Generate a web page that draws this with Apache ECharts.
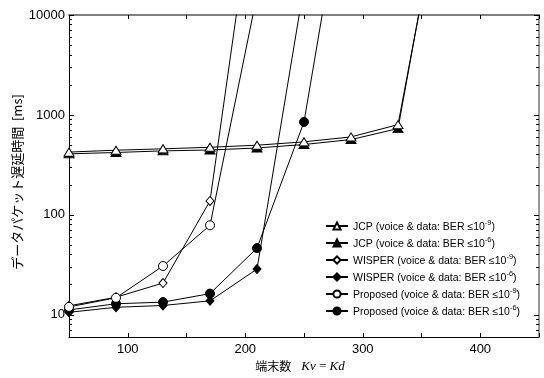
<!DOCTYPE html>
<html>
<head>
<meta charset="utf-8">
<script src="https://cdn.jsdelivr.net/npm/echarts@6/dist/echarts.min.js"></script>
<style>html,body{margin:0;padding:0;background:#fff}#c{width:544px;height:378px}</style>
</head>
<body>
<div id="c"></div>
<script>
// ---- data ----
const xJCP = [50, 90, 130, 170, 210, 250, 290, 330, 370];
const jcp9 = [425, 444, 458, 475, 498, 538, 603, 800, 250000];
const jcp6 = [408, 421, 437, 446, 467, 506, 567, 730, 280000];
const xWisper9 = [50, 90, 130, 170, 210];
const wisper9 = [12.3, 15.0, 20.8, 138, 290000];
const xWisper6 = [50, 90, 130, 170, 210, 250];
const wisper6 = [10.6, 11.9, 12.4, 13.8, 28.7, 19500];
const xProp9 = [50, 90, 130, 170, 210];
const prop9 = [12.0, 14.8, 30.8, 78.7, 15800];
const xProp6 = [50, 90, 130, 170, 210, 250, 290];
const prop6 = [11.2, 12.9, 13.4, 16.3, 46.5, 851, 500000];

const seriesNames = [
  'JCP (voice & data: BER ≤10^-9)',
  'JCP (voice & data: BER ≤10^-6)',
  'WISPER (voice & data: BER ≤10^-9)',
  'WISPER (voice & data: BER ≤10^-6)',
  'Proposed (voice & data: BER ≤10^-9)',
  'Proposed (voice & data: BER ≤10^-6)'
];
const xTickLabels = [100, 200, 300, 400];
const yTickLabels = [10, 100, 1000, 10000];
const yMinorTicks = [7, 8, 9, 20, 30, 40, 50, 60, 70, 80, 90, 200, 300, 400, 500, 600, 700, 800, 900,
  2000, 3000, 4000, 5000, 6000, 7000, 8000, 9000];
const xAxisName = '端末数';
const xAxisVar = 'Kv\u2009=\u2009Kd';
const yAxisName = 'データパケット遅延時間  [ms]';

const pairs = (xs, ys) => xs.map((x, i) => [x, ys[i]]);
const tri = 'path://M0,10 L5,0 L10,10 Z';

function mk(name, xs, ys, symbol, fill, size) {
  return {
    name, type: 'line', data: pairs(xs, ys), symbol, symbolSize: size,
    xAxisIndex: 0, yAxisIndex: 0,
    itemStyle: { color: fill, borderColor: '#000', borderWidth: 1 },
    lineStyle: { color: '#000', width: 1 },
    clip: true, z: fill === '#fff' ? 3 : 2
  };
}

const chart = echarts.init(document.getElementById('c'), null, { renderer: 'canvas' });
const FONT = 'Liberation Sans, Arial, sans-serif';
const G = { left: 69, right: 5, top: 15, bottom: 41, outerBoundsMode: 'none', containLabel: false };

const minorY = (pos) => ({
  type: 'log', min: 6, max: 10000, position: pos, gridIndex: 1,
  axisLine: { show: false },
  axisTick: { show: true, inside: true, length: 3, customValues: yMinorTicks, lineStyle: { color: '#000', width: 1 } },
  axisLabel: { show: false }, splitLine: { show: false }
});

chart.setOption({
  backgroundColor: '#fff',
  animation: false,
  grid: [Object.assign({}, G), Object.assign({}, G)],
  legend: {
    orient: 'vertical', left: 320, top: 214,
    itemWidth: 22, itemHeight: 9, itemGap: 3,
    data: seriesNames,
    formatter: n => {
      const m = n.match(/^(.*≤10)\^(-\d)\)$/);
      return '{t|' + m[1] + '}{s|' + m[2] + '}{t|)}';
    },
    textStyle: {
      color: '#000', fontFamily: FONT, fontSize: 10.5,
      rich: {
        t: { fontSize: 10.5, lineHeight: 14, verticalAlign: 'bottom', fontFamily: FONT },
        s: { fontSize: 7.5, lineHeight: 9, verticalAlign: 'top', fontFamily: FONT }
      }
    }
  },
  xAxis: [{
    type: 'value', min: 50, max: 450, interval: 50, position: 'bottom', gridIndex: 0,
    name: xAxisName + '{g|}{i|' + xAxisVar + '}', nameLocation: 'middle', nameGap: 23,
    nameMoveOverlap: false,
    nameTextStyle: {
      fontSize: 12, color: '#000', fontFamily: 'Noto Sans CJK JP', padding: [0, 8, 0, 0],
      rich: {
        g: { width: 10 },
        i: { fontFamily: 'Liberation Serif', fontStyle: 'italic', fontSize: 13, color: '#000' }
      }
    },
    axisLine: { show: true, onZero: false, lineStyle: { color: '#000', width: 1 } },
    axisTick: { inside: true, length: 4, lineStyle: { color: '#000' } },
    axisLabel: { customValues: xTickLabels, fontSize: 13, color: '#000', fontFamily: FONT, margin: 6,
      formatter: v => String(v) },
    splitLine: { show: false }
  }, {
    type: 'value', min: 50, max: 450, interval: 50, position: 'top', gridIndex: 0,
    axisLine: { show: true, onZero: false, lineStyle: { color: '#808080', width: 2 } },
    axisTick: { inside: true, length: 4, lineStyle: { color: '#000' } },
    axisLabel: { show: false }, splitLine: { show: false }
  }, {
    type: 'value', min: 50, max: 450, gridIndex: 1, show: false
  }],
  yAxis: [{
    type: 'log', min: 6, max: 10000, position: 'left', gridIndex: 0,
    name: yAxisName, nameLocation: 'middle', nameGap: 45, nameMoveOverlap: false,
    nameTextStyle: { fontSize: 13, color: '#000', fontFamily: 'Noto Sans CJK JP', padding: [0, 12, 0, 0] },
    axisLine: { show: true, onZero: false, lineStyle: { color: '#000', width: 1 } },
    axisTick: { inside: true, length: 5, customValues: yTickLabels, lineStyle: { color: '#000' } },
    axisLabel: { customValues: yTickLabels, fontSize: 13, color: '#000', fontFamily: FONT, margin: 4,
      formatter: v => String(Math.round(v)) },
    splitLine: { show: false }
  }, {
    type: 'log', min: 6, max: 10000, position: 'right', gridIndex: 0,
    axisLine: { show: true, onZero: false, lineStyle: { color: '#777', width: 1.5 } },
    axisTick: { inside: true, length: 5, customValues: yTickLabels, lineStyle: { color: '#000' } },
    axisLabel: { show: false }, splitLine: { show: false }
  }, minorY('left'), minorY('right')],
  series: [
    mk(seriesNames[1], xJCP, jcp6, tri, '#000', [10, 8]),
    mk(seriesNames[0], xJCP, jcp9, tri, '#fff', [10, 8]),
    mk(seriesNames[3], xWisper6, wisper6, 'diamond', '#000', [8, 9]),
    mk(seriesNames[2], xWisper9, wisper9, 'diamond', '#fff', [8, 9]),
    mk(seriesNames[5], xProp6, prop6, 'circle', '#000', 9),
    mk(seriesNames[4], xProp9, prop9, 'circle', '#fff', 9)
  ]
});
</script>
</body>
</html>
